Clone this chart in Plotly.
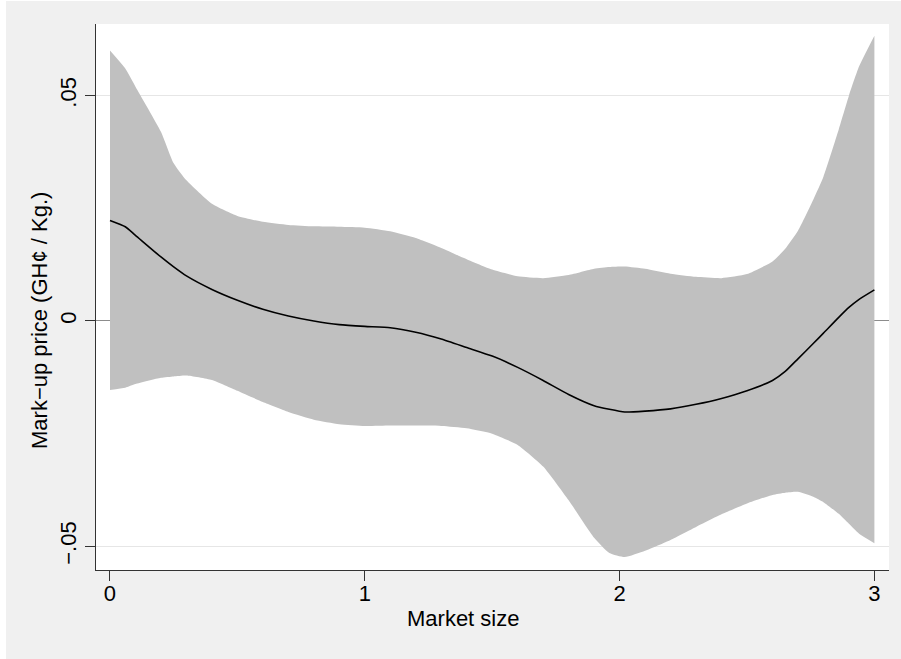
import plotly.graph_objects as go

# Market size grid
market_size = [0, 0.06, 0.1, 0.2, 0.25, 0.3, 0.4, 0.5, 0.6, 0.7, 0.8, 0.9, 1.0,
               1.1, 1.2, 1.3, 1.4, 1.5, 1.6, 1.7, 1.8, 1.9, 1.96, 2.02, 2.1, 2.2,
               2.3, 2.4, 2.5, 2.6, 2.65, 2.7, 2.76, 2.8, 2.86, 2.9, 2.94, 3.0]

ci_upper = [0.0600, 0.0560, 0.0520, 0.0420, 0.0350, 0.0312, 0.0260, 0.0233, 0.0220,
            0.0213, 0.0210, 0.0209, 0.0207, 0.0199, 0.0184, 0.0162, 0.0137, 0.0114,
            0.0099, 0.0095, 0.0102, 0.0116, 0.0120, 0.0121, 0.0116, 0.0105, 0.0098,
            0.0095, 0.0104, 0.0132, 0.0160, 0.0200, 0.0269, 0.0320, 0.0425, 0.0500,
            0.0565, 0.0633]

ci_lower = [-0.0153, -0.0148, -0.0140, -0.0126, -0.0123, -0.0121, -0.0131, -0.0155,
            -0.0180, -0.0202, -0.0219, -0.0229, -0.0233, -0.0232, -0.0232, -0.0233,
            -0.0238, -0.0250, -0.0275, -0.0323, -0.0398, -0.0481, -0.0515, -0.0524,
            -0.0510, -0.0486, -0.0457, -0.0429, -0.0405, -0.0386, -0.0381, -0.0379,
            -0.0390, -0.0402, -0.0428, -0.0450, -0.0472, -0.0493]

markup = [0.0223, 0.0209, 0.0190, 0.0142, 0.0120, 0.0100, 0.0070, 0.0046, 0.0026,
          0.0011, 0.0000, -0.0008, -0.0012, -0.0015, -0.0025, -0.0040, -0.0059,
          -0.0078, -0.0103, -0.0132, -0.0163, -0.0188, -0.0196, -0.0202, -0.0200,
          -0.0195, -0.0185, -0.0172, -0.0155, -0.0132, -0.0112, -0.0084, -0.0050,
          -0.0027, 0.0008, 0.0030, 0.0048, 0.0069]

x_ticks = [0, 1, 2, 3]
x_ticklabels = ["0", "1", "2", "3"]
y_ticks = [-0.05, 0, 0.05]
y_ticklabels = ["\u2212.05", "0", ".05"]

FONT = "Liberation Sans, Arial, Helvetica, sans-serif"
W, H = 901, 659
ML, MR, MT, MB = 96, 12, 24, 89
PW, PH = W - ML - MR, H - MT - MB


def px_x(px):
    return (px - ML) / PW


def px_y(py):
    return (H - MB - py) / PH


fig = go.Figure()
fig.add_trace(go.Scatter(
    x=market_size, y=ci_upper, mode="lines",
    line=dict(width=0, color="#c0c0c0", shape="spline", smoothing=0.5),
    hoverinfo="skip", showlegend=False))
fig.add_trace(go.Scatter(
    x=market_size, y=ci_lower, mode="lines",
    fill="tonexty", fillcolor="#c0c0c0",
    line=dict(width=0, color="#c0c0c0", shape="spline", smoothing=0.5),
    hoverinfo="skip", showlegend=False))
fig.add_trace(go.Scatter(
    x=market_size, y=markup, mode="lines",
    line=dict(color="black", width=1.6, shape="spline", smoothing=0.5),
    showlegend=False))

fig.update_layout(
    width=W, height=H,
    margin=dict(l=ML, r=MR, t=MT, b=MB),
    paper_bgcolor="#f0f0f0", plot_bgcolor="white",
    font=dict(family=FONT, size=22, color="black"),
    showlegend=False,
)
fig.update_xaxes(
    range=[-0.0549, 3.0573], tickvals=x_ticks, ticktext=x_ticklabels,
    showgrid=False, zeroline=False,
    showline=True, linecolor="#333333", linewidth=1,
    ticks="outside", ticklen=10, tickcolor="#333333", tickwidth=1,
    ticklabelstandoff=-6,
    tickfont=dict(family=FONT, size=22, color="black"),
)
fig.update_yaxes(
    range=[-0.05526, 0.0659], tickvals=y_ticks, ticktext=y_ticklabels,
    tickangle=-90,
    showgrid=True, gridcolor="#e6e6e6", gridwidth=1,
    zeroline=True, zerolinecolor="#8c8c8c", zerolinewidth=1,
    showline=True, linecolor="#333333", linewidth=1,
    ticks="outside", ticklen=10, tickcolor="#333333", tickwidth=1,
    tickfont=dict(family=FONT, size=22, color="black"),
)

# thin white edge strips seen on the left and top of the reference image
fig.add_shape(type="rect", xref="paper", yref="paper", layer="above",
              x0=px_x(0), x1=px_x(6), y0=px_y(H), y1=px_y(0),
              fillcolor="white", line=dict(width=0))
fig.add_shape(type="rect", xref="paper", yref="paper", layer="above",
              x0=px_x(0), x1=px_x(W), y0=px_y(1), y1=px_y(0),
              fillcolor="white", line=dict(width=0))

fig.add_annotation(text="Market size", xref="paper", yref="paper",
                   x=px_x(463), y=px_y(618),
                   showarrow=False, xanchor="center", yanchor="middle",
                   font=dict(family=FONT, size=22, color="black"))
fig.add_annotation(text="Mark\u2212up price (GH\u00a2 / Kg.)", xref="paper", yref="paper",
                   x=px_x(39), y=px_y(321), textangle=-90,
                   showarrow=False, xanchor="center", yanchor="middle",
                   font=dict(family=FONT, size=22, color="black"))

fig.write_html("out.html", config={"displayModeBar": False},
               post_script="document.body.style.margin='0';"
                           "document.body.style.background='#f0f0f0';"
                           "document.documentElement.style.background='#f0f0f0';")
